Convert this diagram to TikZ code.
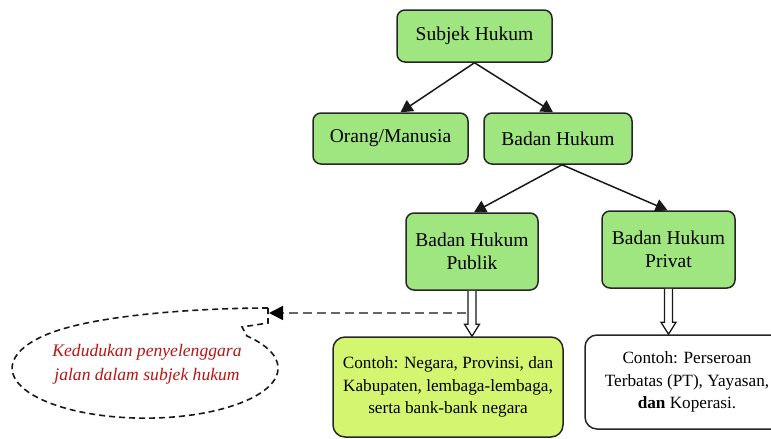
\documentclass[tikz,border=0pt]{standalone}
\usepackage{fontspec}
\setmainfont{Liberation Serif}
\usetikzlibrary{arrows.meta,calc}
\definecolor{boxgreen}{RGB}{160,230,128}
\definecolor{boxlime}{RGB}{212,245,112}
\definecolor{txtred}{RGB}{185,20,20}
\newcommand\hollowarr[2]{%
  \draw[hollow] ($(#1.south)+(-4,0)$) -- ($(#1.south |- #2.north)+(-4,-12)$)
    -- ($(#1.south |- #2.north)+(-7.5,-12)$) -- (#1.south |- #2.north)
    -- ($(#1.south |- #2.north)+(7.5,-12)$) -- ($(#1.south |- #2.north)+(4,-12)$)
    -- ($(#1.south)+(4,0)$);}
\begin{document}
\begin{tikzpicture}[x=1pt,y=-1pt,
  box/.style={draw=black!85, line width=1.5pt, rounded corners=8pt, fill=boxgreen,
    align=center, inner sep=0pt, font=\fontsize{19.5}{23}\selectfont},
  exbox/.style={draw=black!85, line width=1.5pt, rounded corners=12pt,
    align=center, inner sep=0pt, font=\fontsize{17.2}{22.5}\selectfont},
  conn/.style={line width=1.5pt, draw=black!90, -{Triangle[length=12pt,width=13pt]}},
  hollow/.style={line width=1.3pt, draw=black!90, fill=white, line join=miter},
  dasharr/.style={line width=1.5pt, draw=black!60, dash pattern=on 9pt off 5pt,
    -{Triangle[length=14pt,width=14pt,color=black]}},
  calloutline/.style={line width=1.6pt, draw=black!90, dash pattern=on 6pt off 4pt}]
\useasboundingbox (0,0) rectangle (771,439);

\node[box, minimum width=155pt, minimum height=52pt] (subjek) at (474.5,36) {Subjek Hukum};
\node[box, minimum width=155pt, minimum height=51pt] (orang) at (390.5,138.5) {Orang/Manusia};
\node[box, minimum width=148pt, minimum height=51pt] (badan) at (558,138.5) {Badan Hukum};
\node[box, minimum width=132pt, minimum height=77pt] (pub) at (472,251.5) {Badan Hukum\\Publik};
\node[box, minimum width=133pt, minimum height=77pt] (priv) at (668.5,249.5) {Badan Hukum\\Privat};
\node[exbox, fill=boxlime, minimum width=230pt, minimum height=100pt] (c1) at (448,387)
  {Contoh: Negara, Provinsi, dan\\Kabupaten, lembaga-lembaga,\\serta bank-bank negara};
\node[exbox, fill=white, minimum width=204pt, minimum height=94pt] (c2) at (687,382)
  {Contoh: Perseroan\\Terbatas (PT), Yayasan,\\\textbf{dan} Koperasi.};

\draw[conn] (subjek.south) -- ($(orang.north)+(10,0)$);
\draw[conn] (subjek.south) -- ($(badan.north)+(-5,0)$);
\draw[conn] ($(badan.south)+(4,0)$) -- ($(pub.north)+(2,0)$);
\draw[conn] ($(badan.south)+(4,0)$) -- ($(priv.north)+(-1,0)$);

\hollowarr{pub}{c1}
\hollowarr{priv}{c2}

\coordinate (dstart) at (466,313);
\coordinate (ctip) at (269,313);
\draw[dasharr] (dstart) -- (ctip);

\draw[calloutline] (268,308) -- (268,323) -- (242,327) -- (247,336)
  arc[start angle=-40, end angle=235, x radius=133, y radius=50]
  .. controls (124,312.5) and (215,308) .. (268,308);
\node[font=\itshape\fontsize{17.6}{24}\selectfont, text=txtred, align=center] (note) at (147,364)
  {Kedudukan penyelenggara\\jalan dalam subjek hukum};
\end{tikzpicture}
\end{document}
